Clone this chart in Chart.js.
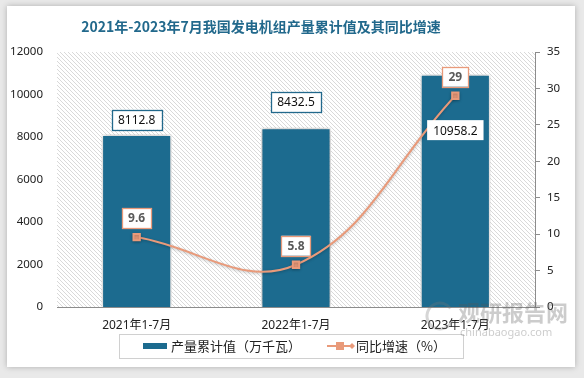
<!DOCTYPE html>
<html>
<head>
<meta charset="utf-8">
<script src="https://cdn.jsdelivr.net/npm/chart.js@4.4.0/dist/chart.umd.min.js"></script>
<style>
html,body{margin:0;padding:0;background:#e9e9e9;width:584px;height:378px;overflow:hidden;}
#card{position:absolute;left:7px;top:6px;width:568px;height:361px;background:#fff;box-shadow:0 0 6px rgba(0,0,0,0.25);}
#wrap{position:absolute;left:0;top:0;width:584px;height:378px;}
</style>
</head>
<body>
<div id="card"></div>
<div id="wrap"><canvas id="c" width="584" height="378"></canvas></div>
<script>
const categories = ['2021年1-7月', '2022年1-7月', '2023年1-7月'];
const outputValues = [8112.8, 8432.5, 10958.2];
const growthValues = [9.6, 5.8, 29];
const leftTicks = [0, 2000, 4000, 6000, 8000, 10000, 12000];
const rightTicks = [0, 5, 10, 15, 20, 25, 30, 35];
const titleText = '2021年-2023年7月我国发电机组产量累计值及其同比增速';
const barLegend = '产量累计值（万千瓦）';
const lineLegend = '同比增速（%）';

const BAR = '#1c6b8f';
const LINE = '#e99a7a';
const FONT = '"Noto Sans", "Noto Sans CJK SC", sans-serif';

function hatch(ctx){
  const p = document.createElement('canvas');
  p.width = 4; p.height = 4;
  const g = p.getContext('2d');
  g.fillStyle = '#fff'; g.fillRect(0,0,4,4);
  g.strokeStyle = '#d9d9d9'; g.lineWidth = 1;
  g.beginPath(); g.moveTo(0,0); g.lineTo(4,4); g.moveTo(-1,3); g.lineTo(1,5); g.moveTo(3,-1); g.lineTo(5,1); g.stroke();
  return ctx.createPattern(p,'repeat');
}

const decor = {
  id:'decor',
  beforeDraw(chart){
    const {ctx, chartArea:a} = chart;
    ctx.save();
    ctx.fillStyle = hatch(ctx);
    ctx.fillRect(a.left, a.top, a.right-a.left, a.bottom-a.top);
    ctx.font = 'bold 14px "Noto Sans CJK SC", sans-serif';
    ctx.fillStyle = '#22698c';
    ctx.textAlign = 'center'; ctx.textBaseline = 'middle';
    ctx.fillText(titleText, 261, 27);
    ctx.restore();
  },
  beforeDatasetDraw(chart, args){
    const ctx = chart.ctx;
    ctx.save();
    if (args.index === 0){
      ctx.shadowColor = 'rgba(0,0,0,0.35)'; ctx.shadowBlur = 5; ctx.shadowOffsetX = 0; ctx.shadowOffsetY = 0;
    } else {
      ctx.shadowColor = 'rgba(0,0,0,0.25)'; ctx.shadowBlur = 3; ctx.shadowOffsetY = 1;
    }
  },
  afterDatasetDraw(chart){ chart.ctx.restore(); },
  afterDraw(chart){
    const ctx = chart.ctx;
    ctx.save();
    function box(txt, cx, cy, border, bold, color){
      ctx.font = (bold?'bold ':'') + '12px ' + FONT;
      const w = ctx.measureText(txt).width + 12;
      const h = 20;
      ctx.fillStyle = '#fff';
      ctx.fillRect(cx-w/2, cy-h/2, w, h);
      if (border){ ctx.strokeStyle = border; ctx.lineWidth = 1.3; ctx.strokeRect(Math.round(cx-w/2)+0.5, Math.round(cy-h/2)+0.5, Math.round(w), h); }
      ctx.fillStyle = color; ctx.textAlign='center'; ctx.textBaseline='middle';
      ctx.fillText(txt, cx, cy+1);
    }
    const barMeta = chart.getDatasetMeta(0).data;
    const lineMeta = chart.getDatasetMeta(1).data;
    const barOff = [-15, -26, 56];
    barMeta.forEach((b,i)=>{
      box(String(outputValues[i]), b.x, b.y + barOff[i], i<2 ? '#22698c' : null, false, '#111');
    });
    lineMeta.forEach((p,i)=>{
      box(String(growthValues[i]), p.x, p.y - 19, LINE, true, '#595959');
    });
    ctx.strokeStyle = '#d0d0d0'; ctx.lineWidth = 1;
    ctx.strokeRect(119.5, 334.5, 344, 24);
    ctx.fillStyle = BAR; ctx.fillRect(143, 343, 24, 6);
    ctx.font = '13px "Noto Sans CJK SC", sans-serif';
    ctx.fillStyle = '#222'; ctx.textAlign='left'; ctx.textBaseline='middle';
    ctx.fillText(barLegend, 171, 346.5);
    ctx.strokeStyle = LINE; ctx.lineWidth = 2;
    ctx.beginPath(); ctx.moveTo(327,346); ctx.lineTo(354,346); ctx.stroke();
    ctx.fillStyle = LINE; ctx.fillRect(336,342,8,8);
    ctx.beginPath(); ctx.moveTo(352,343); ctx.lineTo(355,346); ctx.lineTo(352,349); ctx.lineTo(349,346); ctx.fill();
    ctx.fillStyle = '#222';
    ctx.fillText(lineLegend, 356, 346.5);
    ctx.globalAlpha = 0.3;
    ctx.fillStyle = '#555';
    ctx.font = 'bold 22px "Noto Sans CJK SC", sans-serif';
    ctx.textAlign = 'left';
    ctx.fillText('观研报告网', 458, 313);
    ctx.font = '11px ' + FONT;
    ctx.fillText('chinabaogao.com', 460, 333);
    ctx.lineWidth = 3; ctx.strokeStyle = '#777';
    ctx.beginPath(); ctx.arc(440, 316, 13, 0.3, Math.PI*1.8); ctx.stroke();
    ctx.restore();
  }
};

new Chart(document.getElementById('c'), {
  data: {
    labels: categories,
    datasets: [
      {
        type: 'bar', label: barLegend, data: outputValues, yAxisID: 'y',
        backgroundColor: BAR, borderColor: '#ffffff', borderWidth: 1.5,
        barPercentage: 0.44, categoryPercentage: 1.0, order: 2
      },
      {
        type: 'line', label: lineLegend, data: growthValues, yAxisID: 'y1',
        borderColor: LINE, borderWidth: 2, tension: 0.4,
        pointStyle: 'rect', pointRadius: 4.5, pointBackgroundColor: LINE, pointBorderColor: LINE,
        order: 1
      }
    ]
  },
  options: {
    responsive: false, animation: false, devicePixelRatio: 1,
    layout: { padding: { top: 52, bottom: 45, left: 0, right: 0 } },
    plugins: { legend: { display: false }, title: { display: false }, tooltip: { enabled: false } },
    scales: {
      x: {
        grid: { display: false, drawTicks: false },
        border: { display: true, color: '#8c8c8c', width: 1 },
        ticks: { padding: 11, color: '#222', font: { family: FONT, size: 12 } },
        afterFit(s){ s.height = 26; }
      },
      y: {
        position: 'left', min: 0, max: 12000,
        afterBuildTicks(s){ s.ticks = leftTicks.map(v=>({value:v})); },
        grid: { display: false, drawTicks: false },
        border: { display: false },
        ticks: { padding: 14, color: '#222', font: { family: FONT, size: 11.5 }, callback: v => String(v) },
        afterFit(s){ s.width = 57; }
      },
      y1: {
        position: 'right', min: 0, max: 35,
        afterBuildTicks(s){ s.ticks = rightTicks.map(v=>({value:v})); },
        grid: { display: true, drawOnChartArea: false, drawTicks: true, tickLength: 5, color: '#8c8c8c' },
        border: { display: true, color: '#8c8c8c', width: 1 },
        ticks: { padding: 7, color: '#222', font: { family: FONT, size: 11.5 }, callback: v => String(v) },
        afterFit(s){ s.width = 49; }
      }
    }
  },
  plugins: [decor]
});
</script>
</body>
</html>
